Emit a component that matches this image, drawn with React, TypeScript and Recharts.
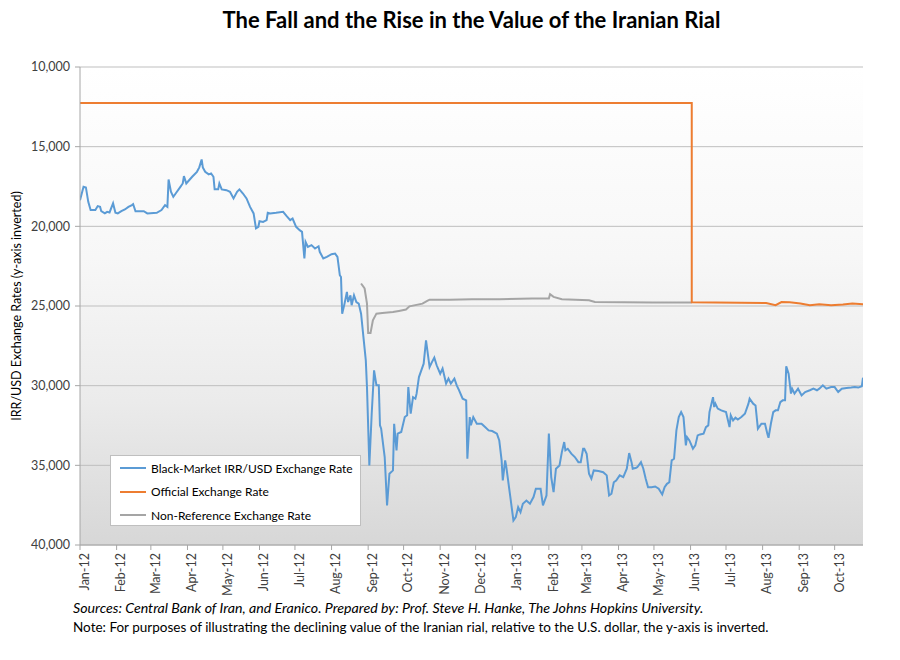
import { LineChart, Line, XAxis, YAxis, CartesianGrid } from 'recharts';

const FONT = 'Lato, "Open Sans", sans-serif';

// [date, IRR per USD]
const blackMarket: [string, number][] = [
  ['2012-01-01', 18360], ['2012-01-04', 17520], ['2012-01-06', 17560], ['2012-01-08', 18460],
  ['2012-01-10', 18980], ['2012-01-14', 18980], ['2012-01-16', 18730], ['2012-01-18', 18780],
  ['2012-01-19', 19050], ['2012-01-22', 19190], ['2012-01-24', 19090], ['2012-01-26', 19130],
  ['2012-01-29', 18560], ['2012-01-31', 19150], ['2012-02-02', 19190], ['2012-02-05', 19050],
  ['2012-02-08', 18940], ['2012-02-11', 18780], ['2012-02-14', 18670], ['2012-02-15', 18610],
  ['2012-02-17', 19050], ['2012-02-24', 19050], ['2012-02-27', 19190], ['2012-03-06', 19150],
  ['2012-03-10', 18980], ['2012-03-13', 18670], ['2012-03-15', 18780], ['2012-03-16', 17060],
  ['2012-03-18', 17830], ['2012-03-20', 18150], ['2012-03-22', 17940], ['2012-03-26', 17520],
  ['2012-03-28', 17310], ['2012-03-29', 16850], ['2012-03-31', 17310], ['2012-04-02', 17140],
  ['2012-04-05', 16890], ['2012-04-09', 16580], ['2012-04-11', 16300], ['2012-04-13', 15800],
  ['2012-04-14', 16300], ['2012-04-16', 16580], ['2012-04-19', 16740], ['2012-04-21', 16680],
  ['2012-04-23', 16890], ['2012-04-24', 17680], ['2012-04-27', 17680], ['2012-04-28', 17310],
  ['2012-04-30', 17680], ['2012-05-04', 17730], ['2012-05-07', 17830], ['2012-05-10', 18250],
  ['2012-05-13', 17830], ['2012-05-15', 17680], ['2012-05-18', 17940], ['2012-05-21', 18250],
  ['2012-05-24', 18780], ['2012-05-27', 19190], ['2012-05-29', 20130], ['2012-05-31', 20030],
  ['2012-06-01', 19680], ['2012-06-04', 19720], ['2012-06-07', 19610], ['2012-06-08', 19150],
  ['2012-06-10', 19190], ['2012-06-15', 19150], ['2012-06-21', 19090], ['2012-06-24', 19360],
  ['2012-06-27', 19610], ['2012-06-29', 19510], ['2012-07-02', 20030], ['2012-07-05', 20240],
  ['2012-07-07', 20350], ['2012-07-09', 22020], ['2012-07-10', 20980], ['2012-07-12', 21290],
  ['2012-07-15', 21180], ['2012-07-18', 21390], ['2012-07-21', 21250], ['2012-07-22', 21600],
  ['2012-07-25', 22020], ['2012-07-28', 21920], ['2012-08-01', 21750], ['2012-08-04', 21710],
  ['2012-08-06', 21920], ['2012-08-08', 23070], ['2012-08-09', 23180], ['2012-08-10', 25480],
  ['2012-08-12', 24850], ['2012-08-14', 24120], ['2012-08-15', 24750], ['2012-08-17', 24330],
  ['2012-08-18', 24950], ['2012-08-20', 24330], ['2012-08-22', 24750], ['2012-08-24', 24850],
  ['2012-08-26', 25480], ['2012-08-28', 26950], ['2012-08-30', 28410], ['2012-08-31', 30090],
  ['2012-09-02', 35010], ['2012-09-04', 31760], ['2012-09-06', 29040], ['2012-09-08', 29980],
  ['2012-09-10', 29980], ['2012-09-11', 32490], ['2012-09-12', 32700], ['2012-09-15', 34480],
  ['2012-09-17', 37520], ['2012-09-19', 35530], ['2012-09-22', 35320], ['2012-09-23', 32390],
  ['2012-09-25', 34060], ['2012-09-26', 33010], ['2012-09-29', 32910], ['2012-10-02', 31970],
  ['2012-10-04', 31860], ['2012-10-05', 30090], ['2012-10-07', 31760], ['2012-10-09', 30720],
  ['2012-10-11', 30820], ['2012-10-12', 30500], ['2012-10-14', 29460], ['2012-10-16', 29040],
  ['2012-10-18', 28620], ['2012-10-20', 27150], ['2012-10-23', 28830], ['2012-10-25', 28520],
  ['2012-10-27', 28240], ['2012-10-29', 28720], ['2012-11-01', 29250], ['2012-11-03', 28930],
  ['2012-11-06', 29870], ['2012-11-08', 29560], ['2012-11-10', 29870], ['2012-11-13', 29560],
  ['2012-11-15', 29980], ['2012-11-17', 30290], ['2012-11-20', 30820], ['2012-11-23', 30920],
  ['2012-11-24', 34590], ['2012-11-26', 31970], ['2012-11-27', 32490], ['2012-11-29', 31970],
  ['2012-12-02', 32390], ['2012-12-06', 32390], ['2012-12-09', 32600], ['2012-12-12', 32810],
  ['2012-12-15', 32850], ['2012-12-19', 33010], ['2012-12-21', 33440], ['2012-12-23', 34690],
  ['2012-12-24', 35950], ['2012-12-26', 34690], ['2012-12-27', 35110], ['2012-12-30', 36780],
  ['2013-01-02', 38460], ['2013-01-04', 38250], ['2013-01-06', 37630], ['2013-01-08', 37940],
  ['2013-01-10', 37410], ['2013-01-13', 37210], ['2013-01-16', 37410], ['2013-01-19', 36990],
  ['2013-01-21', 36470], ['2013-01-25', 36470], ['2013-01-27', 37520], ['2013-01-30', 36890],
  ['2013-02-01', 33010], ['2013-02-03', 35740], ['2013-02-05', 36680], ['2013-02-07', 35210],
  ['2013-02-10', 35010], ['2013-02-12', 34170], ['2013-02-14', 33540], ['2013-02-15', 34060],
  ['2013-02-17', 33960], ['2013-02-20', 34270], ['2013-02-23', 34480], ['2013-02-26', 34800],
  ['2013-02-28', 34800], ['2013-03-02', 33960], ['2013-03-03', 33960], ['2013-03-05', 34270],
  ['2013-03-07', 35530], ['2013-03-09', 35840], ['2013-03-11', 35320], ['2013-03-15', 35360],
  ['2013-03-19', 35430], ['2013-03-22', 35630], ['2013-03-24', 36890], ['2013-03-26', 36780],
  ['2013-03-28', 36060], ['2013-03-30', 35950], ['2013-04-02', 35630], ['2013-04-05', 35740],
  ['2013-04-08', 35210], ['2013-04-10', 34230], ['2013-04-12', 34800], ['2013-04-13', 35210],
  ['2013-04-16', 35150], ['2013-04-17', 35110], ['2013-04-20', 34800], ['2013-04-22', 35210],
  ['2013-04-24', 35840], ['2013-04-26', 36370], ['2013-04-29', 36370], ['2013-05-02', 36330],
  ['2013-05-05', 36470], ['2013-05-08', 36830], ['2013-05-10', 36370], ['2013-05-12', 36160],
  ['2013-05-14', 36060], ['2013-05-16', 34690], ['2013-05-18', 34590], ['2013-05-20', 32810],
  ['2013-05-22', 31970], ['2013-05-24', 31660], ['2013-05-26', 31970], ['2013-05-28', 33750],
  ['2013-05-29', 33230], ['2013-05-31', 33440], ['2013-06-03', 33960], ['2013-06-05', 33750],
  ['2013-06-07', 33120], ['2013-06-09', 33060], ['2013-06-12', 33010], ['2013-06-14', 32600],
  ['2013-06-16', 32490], ['2013-06-17', 31660], ['2013-06-20', 30720], ['2013-06-21', 31340],
  ['2013-06-22', 31130], ['2013-06-24', 31440], ['2013-06-27', 31550], ['2013-07-01', 31660],
  ['2013-07-04', 32600], ['2013-07-05', 31860], ['2013-07-07', 32180], ['2013-07-09', 32010],
  ['2013-07-11', 32130], ['2013-07-14', 31970], ['2013-07-17', 31760], ['2013-07-20', 31130],
  ['2013-07-21', 30820], ['2013-07-24', 31130], ['2013-07-26', 31240], ['2013-07-28', 32700],
  ['2013-07-31', 32390], ['2013-08-03', 32390], ['2013-08-05', 33010], ['2013-08-06', 33270],
  ['2013-08-08', 32390], ['2013-08-10', 31660], ['2013-08-12', 31550], ['2013-08-14', 31550],
  ['2013-08-16', 31030], ['2013-08-18', 30920], ['2013-08-20', 30920], ['2013-08-21', 28790],
  ['2013-08-23', 29250], ['2013-08-25', 30500], ['2013-08-26', 30190], ['2013-08-28', 30500],
  ['2013-08-31', 30190], ['2013-09-03', 30610], ['2013-09-06', 30400], ['2013-09-10', 30290],
  ['2013-09-13', 30190], ['2013-09-16', 30290], ['2013-09-18', 30190], ['2013-09-21', 29980],
  ['2013-09-24', 30190], ['2013-09-28', 30090], ['2013-10-01', 30090], ['2013-10-04', 30400],
  ['2013-10-07', 30190], ['2013-10-11', 30150], ['2013-10-15', 30120], ['2013-10-18', 30090],
  ['2013-10-21', 30120], ['2013-10-24', 30040], ['2013-10-25', 29500],
];

const official: [string, number][] = [
  ['2012-01-01', 12260], ['2013-06-02', 12260], ['2013-06-02', 24760], ['2013-08-04', 24810],
  ['2013-08-12', 24950], ['2013-08-17', 24750], ['2013-08-24', 24770], ['2013-09-02', 24850],
  ['2013-09-10', 24950], ['2013-09-18', 24890], ['2013-09-28', 24950], ['2013-10-08', 24910],
  ['2013-10-16', 24850], ['2013-10-25', 24890],
];

const nonReference: [string, number][] = [
  ['2012-08-26', 23590], ['2012-08-29', 23900], ['2012-08-31', 24850], ['2012-09-01', 26690],
  ['2012-09-03', 26690], ['2012-09-05', 25900], ['2012-09-08', 25480], ['2012-09-13', 25440],
  ['2012-09-22', 25380], ['2012-09-27', 25310], ['2012-10-03', 25220], ['2012-10-06', 25020],
  ['2012-10-17', 24850], ['2012-10-21', 24680], ['2012-10-23', 24600], ['2012-11-09', 24600],
  ['2012-11-28', 24580], ['2012-12-21', 24580], ['2013-01-18', 24530], ['2013-02-01', 24530],
  ['2013-02-02', 24260], ['2013-02-05', 24430], ['2013-02-12', 24580], ['2013-03-07', 24640],
  ['2013-03-12', 24750], ['2013-04-30', 24780], ['2013-06-02', 24780],
];

const monthTicks = [
  '2012-01-01', '2012-02-01', '2012-03-01', '2012-04-01', '2012-05-01', '2012-06-01',
  '2012-07-01', '2012-08-01', '2012-09-01', '2012-10-01', '2012-11-01', '2012-12-01',
  '2013-01-01', '2013-02-01', '2013-03-01', '2013-04-01', '2013-05-01', '2013-06-01',
  '2013-07-01', '2013-08-01', '2013-09-01', '2013-10-01',
];
const monthLabels = [
  'Jan-12', 'Feb-12', 'Mar-12', 'Apr-12', 'May-12', 'Jun-12', 'Jul-12', 'Aug-12',
  'Sep-12', 'Oct-12', 'Nov-12', 'Dec-12', 'Jan-13', 'Feb-13', 'Mar-13', 'Apr-13',
  'May-13', 'Jun-13', 'Jul-13', 'Aug-13', 'Sep-13', 'Oct-13',
];
const xEnd = '2013-10-25';

const yTicks = [10000, 15000, 20000, 25000, 30000, 35000, 40000];

const seriesNames = [
  'Black-Market IRR/USD Exchange Rate',
  'Official Exchange Rate',
  'Non-Reference Exchange Rate',
];
const seriesColors = ['#5b9bd5', '#ed7d31', '#a5a5a5'];

const START = Date.UTC(2012, 0, 1);
function dayOf(s: string): number {
  const [y, m, d] = s.split('-').map(Number);
  return Math.round((Date.UTC(y, m - 1, d) - START) / 86400000);
}
const toPoints = (rows: [string, number][]) => rows.map(([d, v]) => ({ t: dayOf(d), v }));

const tickDays = monthTicks.map(dayOf);

export default function App() {
  const tickStyle = { fontSize: 12.5, fill: '#404040', fontFamily: FONT };
  return (
    <div style={{ position: 'absolute', left: 0, top: 0, width: 900, height: 660, background: '#fff', fontFamily: FONT }}>
      <div
        style={{
          position: 'absolute', left: 80, top: 6, width: 783, textAlign: 'center',
          fontSize: 22, fontWeight: 700, color: '#000',
        }}
      >
        The Fall and the Rise in the Value of the Iranian Rial
      </div>

      <LineChart
        width={900}
        height={660}
        margin={{ top: 67, right: 37, bottom: 55, left: 0 }}
        style={{ position: 'absolute', left: 0, top: 0 }}
      >
        <defs>
          <linearGradient id="plotBg" x1="0" y1="0" x2="0" y2="1">
            <stop offset="0%" stopColor="#ffffff" />
            <stop offset="40%" stopColor="#f7f7f7" />
            <stop offset="70%" stopColor="#ebebeb" />
            <stop offset="100%" stopColor="#d7d7d7" />
          </linearGradient>
        </defs>
        <CartesianGrid vertical={false} stroke="#bfbfbf" fill="url(#plotBg)" fillOpacity={1} />
        <XAxis
          type="number"
          dataKey="t"
          scale="linear"
          domain={[0, dayOf(xEnd)]}
          ticks={tickDays}
          tickFormatter={(d: number) => monthLabels[tickDays.indexOf(d)] ?? ''}
          interval={0}
          angle={-90}
          textAnchor="end"
          height={60}
          tick={tickStyle}
          tickSize={5}
          tickMargin={3}
          stroke="#a6a6a6"
          allowDataOverflow
        />
        <YAxis
          type="number"
          reversed
          domain={[10000, 40000]}
          ticks={yTicks}
          tickFormatter={(v: number) => v.toLocaleString('en-US')}
          width={80}
          tick={tickStyle}
          tickSize={5}
          tickMargin={5}
          stroke="#a6a6a6"
          allowDataOverflow
        />
        <Line
          data={toPoints(nonReference)}
          dataKey="v"
          type="linear"
          stroke={seriesColors[2]}
          strokeWidth={2}
          dot={false}
          isAnimationActive={false}
        />
        <Line
          data={toPoints(official)}
          dataKey="v"
          type="linear"
          stroke={seriesColors[1]}
          strokeWidth={2}
          dot={false}
          isAnimationActive={false}
        />
        <Line
          data={toPoints(blackMarket)}
          dataKey="v"
          type="linear"
          stroke={seriesColors[0]}
          strokeWidth={2}
          dot={false}
          isAnimationActive={false}
        />
      </LineChart>

      <div
        style={{
          position: 'absolute', left: 17 - 250, top: 306 - 8, width: 500, height: 16, lineHeight: '16px',
          textAlign: 'center', transform: 'rotate(-90deg)', fontSize: 12.5, color: '#000',
        }}
      >
        IRR/USD Exchange Rates (y-axis inverted)
      </div>

      <div
        style={{
          position: 'absolute', left: 110, top: 455, width: 251, height: 71, boxSizing: 'border-box',
          background: '#fff', border: '1px solid #bfbfbf',
        }}
      >
        {seriesNames.map((name, i) => (
          <div
            key={name}
            style={{ position: 'absolute', left: 9, top: 3 + i * 23.5, height: 18, display: 'flex', alignItems: 'center' }}
          >
            <span style={{ display: 'inline-block', width: 26, height: 2, background: seriesColors[i] }} />
            <span style={{ marginLeft: 5, fontSize: 12, color: '#000', whiteSpace: 'nowrap' }}>{name}</span>
          </div>
        ))}
      </div>

      <div style={{ position: 'absolute', left: 73, top: 599, fontSize: 14.2, color: '#000', fontStyle: 'italic', whiteSpace: 'nowrap' }}>
        Sources: Central Bank of Iran, and Eranico. Prepared by: Prof. Steve H. Hanke, The Johns Hopkins University.
      </div>
      <div style={{ position: 'absolute', left: 73, top: 619, fontSize: 13.5, color: '#000', whiteSpace: 'nowrap' }}>
        Note: For purposes of illustrating the declining value of the Iranian rial, relative to the U.S. dollar, the y-axis is inverted.
      </div>
    </div>
  );
}
